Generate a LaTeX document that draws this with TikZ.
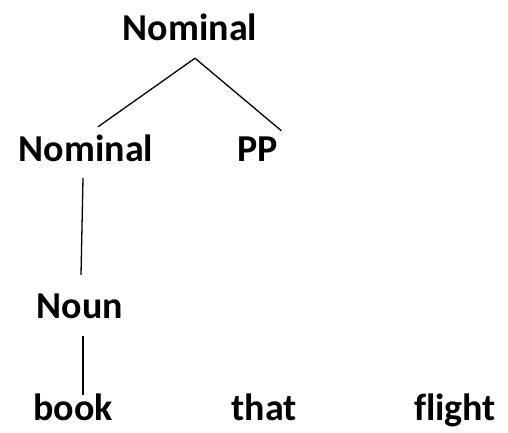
\documentclass[tikz,border=0pt]{standalone}
\usepackage{fontspec}
\setmainfont[Ligatures=NoCommon]{Carlito}
\begin{document}
\begin{tikzpicture}[x=1pt,y=-1pt,
  lbl/.style={font=\fontsize{38}{40}\selectfont\bfseries, inner sep=0pt, text height=25pt, text depth=0pt, anchor=base},
  edge/.style={line width=1.3pt, black}]
\useasboundingbox (0,0) rectangle (508,432);
\node[lbl] (top) at (190,40) {Nominal};
\node[lbl] (nomL) at (86,161) {Nominal};
\node[lbl] (pp) at (258,161) {PP};
\node[lbl] (noun) at (80,318) {Noun};
\node[lbl] (book) at (73,420) {book};
\node[lbl] (that) at (264,420) {that};
\node[lbl] (flight) at (455,420) {flight};
\draw[edge] ([xshift=5pt,yshift=-18pt]top.south) -- ([xshift=12pt,yshift=9pt]nomL.north);
\draw[edge] ([xshift=5pt,yshift=-18pt]top.south) -- ([xshift=3pt,yshift=5pt]pp.north east);
\draw[edge] ([xshift=-3pt,yshift=-17pt]nomL.south) -- ([xshift=1pt,yshift=18pt]noun.north);
\draw[edge] ([xshift=3pt,yshift=-18pt]noun.south) -- ([xshift=10pt,yshift=0pt]book.north);
\end{tikzpicture}
\end{document}
